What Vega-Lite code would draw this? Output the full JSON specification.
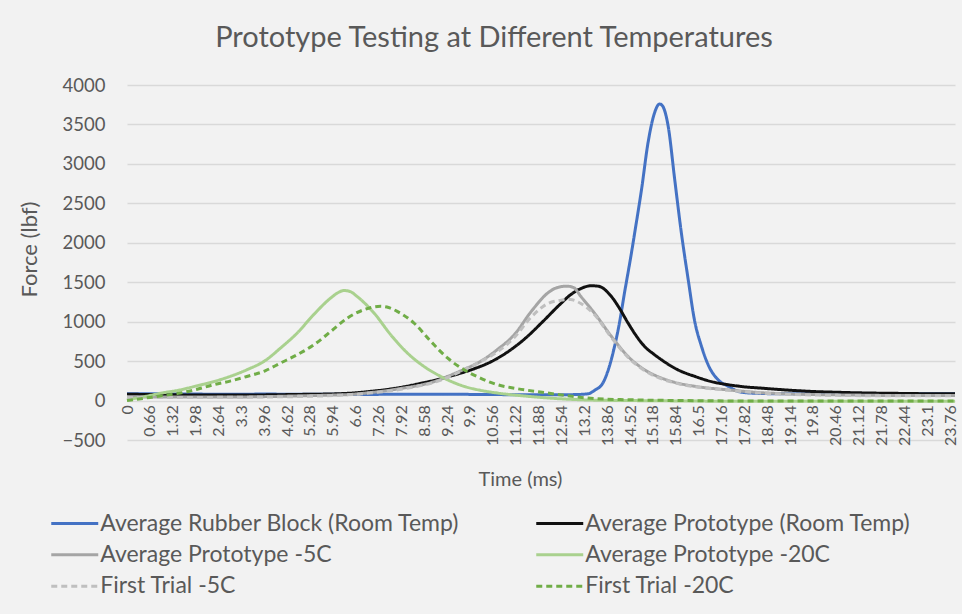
{
  "$schema": "https://vega.github.io/schema/vega-lite/v6.json",
  "width": 828,
  "height": 355,
  "autosize": {"type": "none"},
  "padding": {"left": 127, "top": 85, "right": 7, "bottom": 174},
  "background": "#f2f2f2",
  "config": {"view": {"stroke": null}, "font": "Lato"},
  "title": {"text": "Prototype Testing at Different Temperatures", "fontSize": 29, "fontWeight": "normal", "color": "#595959", "anchor": "middle", "frame": "group", "dx": -47, "offset": 9, "baseline": "middle"},
  "data": {"values": [
    {"s": "Average Rubber Block (Room Temp)", "t": 0, "f": 85},
    {"s": "Average Rubber Block (Room Temp)", "t": 1, "f": 85},
    {"s": "Average Rubber Block (Room Temp)", "t": 2, "f": 82},
    {"s": "Average Rubber Block (Room Temp)", "t": 3, "f": 80},
    {"s": "Average Rubber Block (Room Temp)", "t": 4, "f": 82},
    {"s": "Average Rubber Block (Room Temp)", "t": 5, "f": 80},
    {"s": "Average Rubber Block (Room Temp)", "t": 6, "f": 80},
    {"s": "Average Rubber Block (Room Temp)", "t": 7, "f": 78},
    {"s": "Average Rubber Block (Room Temp)", "t": 8, "f": 80},
    {"s": "Average Rubber Block (Room Temp)", "t": 9, "f": 80},
    {"s": "Average Rubber Block (Room Temp)", "t": 10, "f": 78},
    {"s": "Average Rubber Block (Room Temp)", "t": 11, "f": 75},
    {"s": "Average Rubber Block (Room Temp)", "t": 12, "f": 75},
    {"s": "Average Rubber Block (Room Temp)", "t": 12.8, "f": 75},
    {"s": "Average Rubber Block (Room Temp)", "t": 13.3, "f": 85},
    {"s": "Average Rubber Block (Room Temp)", "t": 13.5, "f": 130},
    {"s": "Average Rubber Block (Room Temp)", "t": 13.74, "f": 225},
    {"s": "Average Rubber Block (Room Temp)", "t": 13.9, "f": 400},
    {"s": "Average Rubber Block (Room Temp)", "t": 14.07, "f": 680},
    {"s": "Average Rubber Block (Room Temp)", "t": 14.2, "f": 950},
    {"s": "Average Rubber Block (Room Temp)", "t": 14.36, "f": 1365},
    {"s": "Average Rubber Block (Room Temp)", "t": 14.56, "f": 1870},
    {"s": "Average Rubber Block (Room Temp)", "t": 14.7, "f": 2250},
    {"s": "Average Rubber Block (Room Temp)", "t": 14.85, "f": 2670},
    {"s": "Average Rubber Block (Room Temp)", "t": 15.04, "f": 3270},
    {"s": "Average Rubber Block (Room Temp)", "t": 15.23, "f": 3650},
    {"s": "Average Rubber Block (Room Temp)", "t": 15.37, "f": 3760},
    {"s": "Average Rubber Block (Room Temp)", "t": 15.45, "f": 3740},
    {"s": "Average Rubber Block (Room Temp)", "t": 15.62, "f": 3480},
    {"s": "Average Rubber Block (Room Temp)", "t": 15.81, "f": 2800},
    {"s": "Average Rubber Block (Room Temp)", "t": 16.0, "f": 2130},
    {"s": "Average Rubber Block (Room Temp)", "t": 16.2, "f": 1530},
    {"s": "Average Rubber Block (Room Temp)", "t": 16.38, "f": 1020},
    {"s": "Average Rubber Block (Room Temp)", "t": 16.58, "f": 690},
    {"s": "Average Rubber Block (Room Temp)", "t": 16.8, "f": 430},
    {"s": "Average Rubber Block (Room Temp)", "t": 17.07, "f": 260},
    {"s": "Average Rubber Block (Room Temp)", "t": 17.36, "f": 180},
    {"s": "Average Rubber Block (Room Temp)", "t": 17.65, "f": 115},
    {"s": "Average Rubber Block (Room Temp)", "t": 18, "f": 95},
    {"s": "Average Rubber Block (Room Temp)", "t": 19, "f": 85},
    {"s": "Average Rubber Block (Room Temp)", "t": 20, "f": 85},
    {"s": "Average Rubber Block (Room Temp)", "t": 21, "f": 85},
    {"s": "Average Rubber Block (Room Temp)", "t": 22, "f": 85},
    {"s": "Average Rubber Block (Room Temp)", "t": 23, "f": 85},
    {"s": "Average Rubber Block (Room Temp)", "t": 23.9, "f": 85},

    {"s": "Average Prototype (Room Temp)", "t": 0, "f": 80},
    {"s": "Average Prototype (Room Temp)", "t": 1, "f": 75},
    {"s": "Average Prototype (Room Temp)", "t": 2, "f": 70},
    {"s": "Average Prototype (Room Temp)", "t": 3, "f": 70},
    {"s": "Average Prototype (Room Temp)", "t": 4, "f": 72},
    {"s": "Average Prototype (Room Temp)", "t": 5, "f": 78},
    {"s": "Average Prototype (Room Temp)", "t": 6, "f": 85},
    {"s": "Average Prototype (Room Temp)", "t": 6.5, "f": 95},
    {"s": "Average Prototype (Room Temp)", "t": 7, "f": 115},
    {"s": "Average Prototype (Room Temp)", "t": 7.5, "f": 140},
    {"s": "Average Prototype (Room Temp)", "t": 8, "f": 175},
    {"s": "Average Prototype (Room Temp)", "t": 8.5, "f": 220},
    {"s": "Average Prototype (Room Temp)", "t": 9, "f": 270},
    {"s": "Average Prototype (Room Temp)", "t": 9.5, "f": 330},
    {"s": "Average Prototype (Room Temp)", "t": 10, "f": 400},
    {"s": "Average Prototype (Room Temp)", "t": 10.5, "f": 490},
    {"s": "Average Prototype (Room Temp)", "t": 11, "f": 620},
    {"s": "Average Prototype (Room Temp)", "t": 11.5, "f": 790},
    {"s": "Average Prototype (Room Temp)", "t": 12, "f": 1000},
    {"s": "Average Prototype (Room Temp)", "t": 12.5, "f": 1220},
    {"s": "Average Prototype (Room Temp)", "t": 12.8, "f": 1340},
    {"s": "Average Prototype (Room Temp)", "t": 13.1, "f": 1420},
    {"s": "Average Prototype (Room Temp)", "t": 13.4, "f": 1455},
    {"s": "Average Prototype (Room Temp)", "t": 13.6, "f": 1450},
    {"s": "Average Prototype (Room Temp)", "t": 13.98, "f": 1320},
    {"s": "Average Prototype (Room Temp)", "t": 14.2, "f": 1180},
    {"s": "Average Prototype (Room Temp)", "t": 14.46, "f": 985},
    {"s": "Average Prototype (Room Temp)", "t": 14.7, "f": 820},
    {"s": "Average Prototype (Room Temp)", "t": 14.94, "f": 685},
    {"s": "Average Prototype (Room Temp)", "t": 15.2, "f": 590},
    {"s": "Average Prototype (Room Temp)", "t": 15.43, "f": 516},
    {"s": "Average Prototype (Room Temp)", "t": 15.9, "f": 390},
    {"s": "Average Prototype (Room Temp)", "t": 16.4, "f": 305},
    {"s": "Average Prototype (Room Temp)", "t": 16.87, "f": 240},
    {"s": "Average Prototype (Room Temp)", "t": 17.36, "f": 200},
    {"s": "Average Prototype (Room Temp)", "t": 17.8, "f": 175},
    {"s": "Average Prototype (Room Temp)", "t": 18.32, "f": 157},
    {"s": "Average Prototype (Room Temp)", "t": 19, "f": 135},
    {"s": "Average Prototype (Room Temp)", "t": 19.8, "f": 115},
    {"s": "Average Prototype (Room Temp)", "t": 20.5, "f": 105},
    {"s": "Average Prototype (Room Temp)", "t": 21.5, "f": 95},
    {"s": "Average Prototype (Room Temp)", "t": 22.5, "f": 90},
    {"s": "Average Prototype (Room Temp)", "t": 23.5, "f": 85},
    {"s": "Average Prototype (Room Temp)", "t": 23.9, "f": 85},

    {"s": "Average Prototype -5C", "t": 0, "f": 50},
    {"s": "Average Prototype -5C", "t": 1, "f": 45},
    {"s": "Average Prototype -5C", "t": 2, "f": 45},
    {"s": "Average Prototype -5C", "t": 3, "f": 45},
    {"s": "Average Prototype -5C", "t": 4, "f": 50},
    {"s": "Average Prototype -5C", "t": 5, "f": 60},
    {"s": "Average Prototype -5C", "t": 6, "f": 70},
    {"s": "Average Prototype -5C", "t": 6.36, "f": 75},
    {"s": "Average Prototype -5C", "t": 7, "f": 100},
    {"s": "Average Prototype -5C", "t": 7.32, "f": 115},
    {"s": "Average Prototype -5C", "t": 8, "f": 160},
    {"s": "Average Prototype -5C", "t": 8.29, "f": 180},
    {"s": "Average Prototype -5C", "t": 9, "f": 260},
    {"s": "Average Prototype -5C", "t": 9.25, "f": 305},
    {"s": "Average Prototype -5C", "t": 9.7, "f": 390},
    {"s": "Average Prototype -5C", "t": 10.2, "f": 495},
    {"s": "Average Prototype -5C", "t": 10.7, "f": 650},
    {"s": "Average Prototype -5C", "t": 11.18, "f": 835},
    {"s": "Average Prototype -5C", "t": 11.67, "f": 1130},
    {"s": "Average Prototype -5C", "t": 12.15, "f": 1365},
    {"s": "Average Prototype -5C", "t": 12.4, "f": 1430},
    {"s": "Average Prototype -5C", "t": 12.7, "f": 1450},
    {"s": "Average Prototype -5C", "t": 12.9, "f": 1430},
    {"s": "Average Prototype -5C", "t": 13.1, "f": 1320},
    {"s": "Average Prototype -5C", "t": 13.49, "f": 1110},
    {"s": "Average Prototype -5C", "t": 13.98, "f": 815},
    {"s": "Average Prototype -5C", "t": 14.46, "f": 560},
    {"s": "Average Prototype -5C", "t": 14.94, "f": 390},
    {"s": "Average Prototype -5C", "t": 15.43, "f": 285},
    {"s": "Average Prototype -5C", "t": 15.9, "f": 220},
    {"s": "Average Prototype -5C", "t": 16.4, "f": 180},
    {"s": "Average Prototype -5C", "t": 17.36, "f": 135},
    {"s": "Average Prototype -5C", "t": 18.3, "f": 100},
    {"s": "Average Prototype -5C", "t": 19, "f": 85},
    {"s": "Average Prototype -5C", "t": 20, "f": 75},
    {"s": "Average Prototype -5C", "t": 21, "f": 70},
    {"s": "Average Prototype -5C", "t": 22, "f": 65},
    {"s": "Average Prototype -5C", "t": 23, "f": 65},
    {"s": "Average Prototype -5C", "t": 23.9, "f": 65},

    {"s": "Average Prototype -20C", "t": 0, "f": 10},
    {"s": "Average Prototype -20C", "t": 0.5, "f": 50},
    {"s": "Average Prototype -20C", "t": 1.0, "f": 95},
    {"s": "Average Prototype -20C", "t": 1.53, "f": 135},
    {"s": "Average Prototype -20C", "t": 2, "f": 185},
    {"s": "Average Prototype -20C", "t": 2.5, "f": 240},
    {"s": "Average Prototype -20C", "t": 3, "f": 310},
    {"s": "Average Prototype -20C", "t": 3.46, "f": 390},
    {"s": "Average Prototype -20C", "t": 4, "f": 510},
    {"s": "Average Prototype -20C", "t": 4.43, "f": 665},
    {"s": "Average Prototype -20C", "t": 4.91, "f": 855},
    {"s": "Average Prototype -20C", "t": 5.39, "f": 1090},
    {"s": "Average Prototype -20C", "t": 5.88, "f": 1300},
    {"s": "Average Prototype -20C", "t": 6.1, "f": 1370},
    {"s": "Average Prototype -20C", "t": 6.26, "f": 1395},
    {"s": "Average Prototype -20C", "t": 6.45, "f": 1380},
    {"s": "Average Prototype -20C", "t": 6.64, "f": 1320},
    {"s": "Average Prototype -20C", "t": 7.13, "f": 1110},
    {"s": "Average Prototype -20C", "t": 7.61, "f": 835},
    {"s": "Average Prototype -20C", "t": 8.1, "f": 600},
    {"s": "Average Prototype -20C", "t": 8.58, "f": 430},
    {"s": "Average Prototype -20C", "t": 9.06, "f": 305},
    {"s": "Average Prototype -20C", "t": 9.73, "f": 180},
    {"s": "Average Prototype -20C", "t": 10.2, "f": 130},
    {"s": "Average Prototype -20C", "t": 10.7, "f": 95},
    {"s": "Average Prototype -20C", "t": 11.67, "f": 50},
    {"s": "Average Prototype -20C", "t": 12.6, "f": 20},
    {"s": "Average Prototype -20C", "t": 13.5, "f": 5},
    {"s": "Average Prototype -20C", "t": 14.5, "f": 0},
    {"s": "Average Prototype -20C", "t": 16, "f": -5},
    {"s": "Average Prototype -20C", "t": 18, "f": -10},
    {"s": "Average Prototype -20C", "t": 20, "f": -10},
    {"s": "Average Prototype -20C", "t": 22, "f": -10},
    {"s": "Average Prototype -20C", "t": 23.9, "f": -10},

    {"s": "First Trial -5C", "t": 0, "f": 40},
    {"s": "First Trial -5C", "t": 2, "f": 40},
    {"s": "First Trial -5C", "t": 4, "f": 45},
    {"s": "First Trial -5C", "t": 6, "f": 65},
    {"s": "First Trial -5C", "t": 7, "f": 95},
    {"s": "First Trial -5C", "t": 8, "f": 150},
    {"s": "First Trial -5C", "t": 9, "f": 250},
    {"s": "First Trial -5C", "t": 10, "f": 450},
    {"s": "First Trial -5C", "t": 10.7, "f": 620},
    {"s": "First Trial -5C", "t": 11.18, "f": 800},
    {"s": "First Trial -5C", "t": 11.67, "f": 1060},
    {"s": "First Trial -5C", "t": 12.15, "f": 1230},
    {"s": "First Trial -5C", "t": 12.5, "f": 1270},
    {"s": "First Trial -5C", "t": 12.8, "f": 1280},
    {"s": "First Trial -5C", "t": 13.1, "f": 1230},
    {"s": "First Trial -5C", "t": 13.49, "f": 1090},
    {"s": "First Trial -5C", "t": 13.98, "f": 800},
    {"s": "First Trial -5C", "t": 14.46, "f": 550},
    {"s": "First Trial -5C", "t": 14.94, "f": 380},
    {"s": "First Trial -5C", "t": 15.43, "f": 275},
    {"s": "First Trial -5C", "t": 15.9, "f": 215},
    {"s": "First Trial -5C", "t": 16.4, "f": 175},
    {"s": "First Trial -5C", "t": 17.36, "f": 130},
    {"s": "First Trial -5C", "t": 18.3, "f": 95},
    {"s": "First Trial -5C", "t": 19, "f": 80},
    {"s": "First Trial -5C", "t": 20, "f": 70},
    {"s": "First Trial -5C", "t": 22, "f": 60},
    {"s": "First Trial -5C", "t": 23.9, "f": 60},

    {"s": "First Trial -20C", "t": 0, "f": 0},
    {"s": "First Trial -20C", "t": 0.5, "f": 30},
    {"s": "First Trial -20C", "t": 1.0, "f": 60},
    {"s": "First Trial -20C", "t": 1.53, "f": 95},
    {"s": "First Trial -20C", "t": 2, "f": 140},
    {"s": "First Trial -20C", "t": 2.5, "f": 200},
    {"s": "First Trial -20C", "t": 3, "f": 250},
    {"s": "First Trial -20C", "t": 3.46, "f": 305},
    {"s": "First Trial -20C", "t": 4, "f": 380},
    {"s": "First Trial -20C", "t": 4.43, "f": 475},
    {"s": "First Trial -20C", "t": 4.91, "f": 580},
    {"s": "First Trial -20C", "t": 5.39, "f": 705},
    {"s": "First Trial -20C", "t": 5.88, "f": 875},
    {"s": "First Trial -20C", "t": 6.36, "f": 1045},
    {"s": "First Trial -20C", "t": 6.83, "f": 1150},
    {"s": "First Trial -20C", "t": 7.32, "f": 1195},
    {"s": "First Trial -20C", "t": 7.55, "f": 1180},
    {"s": "First Trial -20C", "t": 7.8, "f": 1130},
    {"s": "First Trial -20C", "t": 8.29, "f": 980},
    {"s": "First Trial -20C", "t": 8.77, "f": 750},
    {"s": "First Trial -20C", "t": 9.25, "f": 540},
    {"s": "First Trial -20C", "t": 9.73, "f": 390},
    {"s": "First Trial -20C", "t": 10.2, "f": 285},
    {"s": "First Trial -20C", "t": 10.7, "f": 200},
    {"s": "First Trial -20C", "t": 11.18, "f": 157},
    {"s": "First Trial -20C", "t": 12.15, "f": 95},
    {"s": "First Trial -20C", "t": 12.9, "f": 50},
    {"s": "First Trial -20C", "t": 13.5, "f": 25},
    {"s": "First Trial -20C", "t": 14.5, "f": 10},
    {"s": "First Trial -20C", "t": 16, "f": 0},
    {"s": "First Trial -20C", "t": 18, "f": -5},
    {"s": "First Trial -20C", "t": 20, "f": -5},
    {"s": "First Trial -20C", "t": 22, "f": -5},
    {"s": "First Trial -20C", "t": 23.9, "f": -5}
  ]},
  "mark": {"type": "line", "strokeWidth": 3, "interpolate": "monotone"},
  "encoding": {
    "x": {
      "field": "t", "type": "quantitative",
      "scale": {"domain": [0, 23.9], "nice": false, "zero": false},
      "axis": {
        "values": [0, 0.66, 1.32, 1.98, 2.64, 3.3, 3.96, 4.62, 5.28, 5.94, 6.6, 7.26, 7.92, 8.58, 9.24, 9.9, 10.56, 11.22, 11.88, 12.54, 13.2, 13.86, 14.52, 15.18, 15.84, 16.5, 17.16, 17.82, 18.48, 19.14, 19.8, 20.46, 21.12, 21.78, 22.44, 23.1, 23.76],
        "format": ".2~f",
        "labelAngle": -90,
        "labelFontSize": 16,
        "labelColor": "#595959",
        "labelPadding": 4,
        "labelOverlap": false,
        "labelFlush": false,
        "domain": false,
        "ticks": false,
        "grid": false,
        "offset": -39.4,
        "title": "Time (ms)",
        "titleFontSize": 20,
        "titleFontWeight": "normal",
        "titleColor": "#595959",
        "titleX": 393,
        "titleY": 79,
        "titleBaseline": "middle"
      }
    },
    "y": {
      "field": "f", "type": "quantitative",
      "scale": {"domain": [-500, 4000], "nice": false, "zero": false},
      "axis": {
        "values": [-500, 0, 500, 1000, 1500, 2000, 2500, 3000, 3500, 4000],
        "format": "d",
        "title": "Force (lbf)",
        "titleFontSize": 22,
        "titleFontWeight": "normal",
        "titleColor": "#595959",
        "titleX": -98,
        "titleY": 164,
        "titleAlign": "center",
        "titleBaseline": "middle",
        "labelFontSize": 18.5,
        "labelColor": "#595959",
        "labelPadding": 22,
        "domain": false,
        "ticks": false,
        "gridColor": "#d9d9d9",
        "gridWidth": 1.3
      }
    },
    "color": {
      "field": "s", "type": "nominal",
      "scale": {
        "domain": ["Average Rubber Block (Room Temp)", "Average Prototype -5C", "First Trial -5C", "Average Prototype (Room Temp)", "Average Prototype -20C", "First Trial -20C"],
        "range": ["#4472C4", "#A5A5A5", "#BFBFBF", "#111111", "#A9D18E", "#70AD47"]
      },
      "legend": {"title": null, "orient": "none", "legendX": -65.75, "legendY": 424.75, "columns": 2, "symbolType": "M-2,0H2", "symbolSize": 552, "symbolStrokeWidth": 3, "labelFontSize": 23, "labelColor": "#595959", "labelOffset": 12, "columnPadding": 70, "rowPadding": 5.5, "labelLimit": 600, "padding": 0}
    },
    "strokeDash": {
      "field": "s", "type": "nominal",
      "scale": {
        "domain": ["Average Rubber Block (Room Temp)", "Average Prototype -5C", "First Trial -5C", "Average Prototype (Room Temp)", "Average Prototype -20C", "First Trial -20C"],
        "range": [[1, 0], [1, 0], [6, 4], [1, 0], [1, 0], [6, 4]]
      },
      "legend": {"title": null, "orient": "none", "legendX": -65.75, "legendY": 424.75, "columns": 2, "symbolType": "M-2,0H2", "symbolSize": 552, "symbolStrokeWidth": 3, "labelFontSize": 23, "labelColor": "#595959", "labelOffset": 12, "columnPadding": 70, "rowPadding": 5.5, "labelLimit": 600, "padding": 0}
    }
  }
}
